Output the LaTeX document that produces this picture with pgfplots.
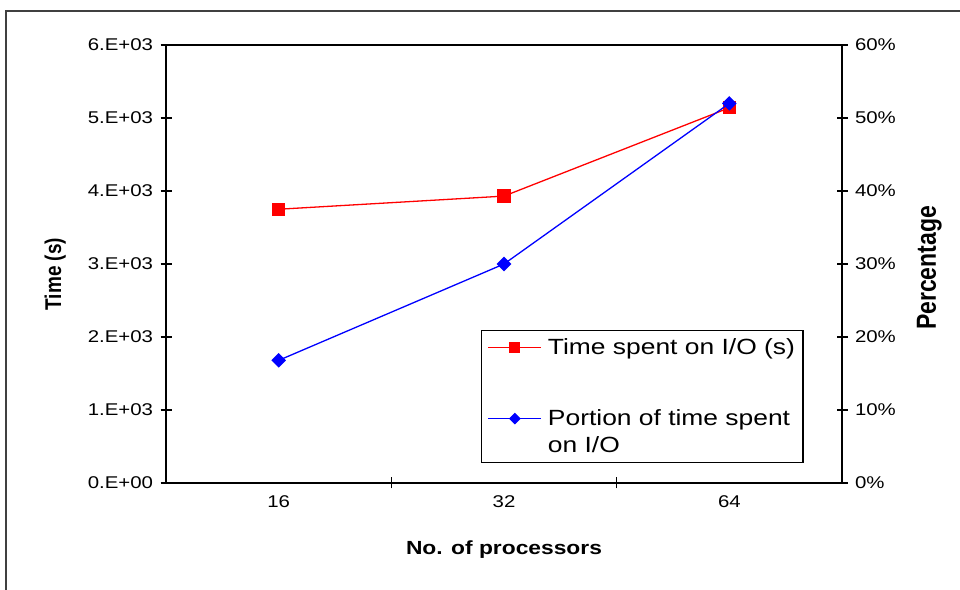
\documentclass[border=0pt]{standalone}
\usepackage{pgfplots}
\pgfplotsset{compat=1.18}
\usepackage{fontspec}
\setmainfont{Liberation Sans}[FakeStretch=1.2]
\newfontfamily\rotfont{Liberation Sans}

\begin{document}
\begin{tikzpicture}[x=1bp,y=1bp]
\useasboundingbox (0,0) rectangle (960,590);
% outer chart frame
\draw[black!75, line width=1.6bp] (6,-20) -- (6,579) -- (990,579);

\pgfplotsset{
  twin/.style={
    scale only axis, width=676bp, height=438bp,
    at={(166bp,107bp)}, anchor=south west,
    xmin=-0.5, xmax=2.5,
    tick align=center, major tick length=11bp, minor tick length=11bp,
    every tick/.style={black, line width=1.2bp},
    axis line style={line width=1.5bp},
    /pgf/number format/assume math mode=true,
    tick label style={font=\fontsize{17bp}{20bp}\selectfont},
    clip=false,
  },
}

% left axis: time spent on I/O
\begin{axis}[twin,
  ymin=0, ymax=6000,
  ytick={0,1000,2000,3000,4000,5000,6000},
  yticklabels={0.E+00,1.E+03,2.E+03,3.E+03,4.E+03,5.E+03,6.E+03},
  ytick pos=left,
  xtick={0,1,2}, xticklabels={16,32,64},
  major x tick style={draw=none},
  minor xtick={0.5,1.5},
  xtick pos=bottom,
  xticklabel style={yshift=-4bp},
  yticklabel style={xshift=-4bp},
  xlabel={\bfseries\fontsize{19bp}{22bp}\selectfont No. of processors},
  xlabel style={at={(axis description cs:0.5,-0.153)}, anchor=center},
  ylabel={\rotfont\bfseries\fontsize{19bp}{22bp}\selectfont\scalebox{1}[1.2]{Time (s)}},
  ylabel style={at={(axis description cs:-0.164,0.477)}, anchor=center},
]
\addplot[red, line width=1.3bp, mark=square*, mark size=6bp, mark options={solid}]
  coordinates {(0,3750) (1,3930) (2,5140)};
\end{axis}

% right axis: portion of time spent on I/O
\begin{axis}[twin,
  axis x line=none,
  axis y line*=right,
  ymin=0, ymax=60,
  ytick={0,10,20,30,40,50,60},
  yticklabels={0\%,10\%,20\%,30\%,40\%,50\%,60\%},
  yticklabel style={xshift=4bp},
  ylabel={\rotfont\bfseries\fontsize{23bp}{26bp}\selectfont\scalebox{1}[1.2]{Percentage}},
  ylabel style={at={(axis description cs:1.129,0.491)}, anchor=center},
  legend image code/.code={%
    \draw[mark repeat=2, mark phase=2, #1]
      plot coordinates {(0bp,0bp) (26.5bp,0bp) (53bp,0bp)};},
  legend style={
    at={(0.466,0.0457)}, anchor=south west,
    draw=black, line width=1.3bp,
    font=\fontsize{22bp}{27bp}\selectfont,
    cells={anchor=west, align=left},
    column sep=4bp,
    row sep=50bp, inner xsep=6bp, inner ysep=6bp,
  },
  legend cell align=left,
]
\addlegendimage{red, line width=1.3bp, mark=square*, mark size=5bp}
\addlegendentry{Time spent on I/O (s)}
% two-line entry: keep the sample beside the first line
\addlegendimage{legend image code/.code={%
    \draw[blue, line width=1.3bp, mark=square*, mark size=3.5bp,
          mark options={rotate=45}, mark repeat=2, mark phase=2]
      plot coordinates {(0bp,13.5bp) (26.5bp,13.5bp) (53bp,13.5bp)};}}
\addlegendentry{Portion of time spent\\on I/O}
\addplot[blue, line width=1.3bp, mark=square*, mark size=4.5bp, mark options={rotate=45}, forget plot]
  coordinates {(0,16.8) (1,30.0) (2,52.0)};
\end{axis}
\end{tikzpicture}
\end{document}
